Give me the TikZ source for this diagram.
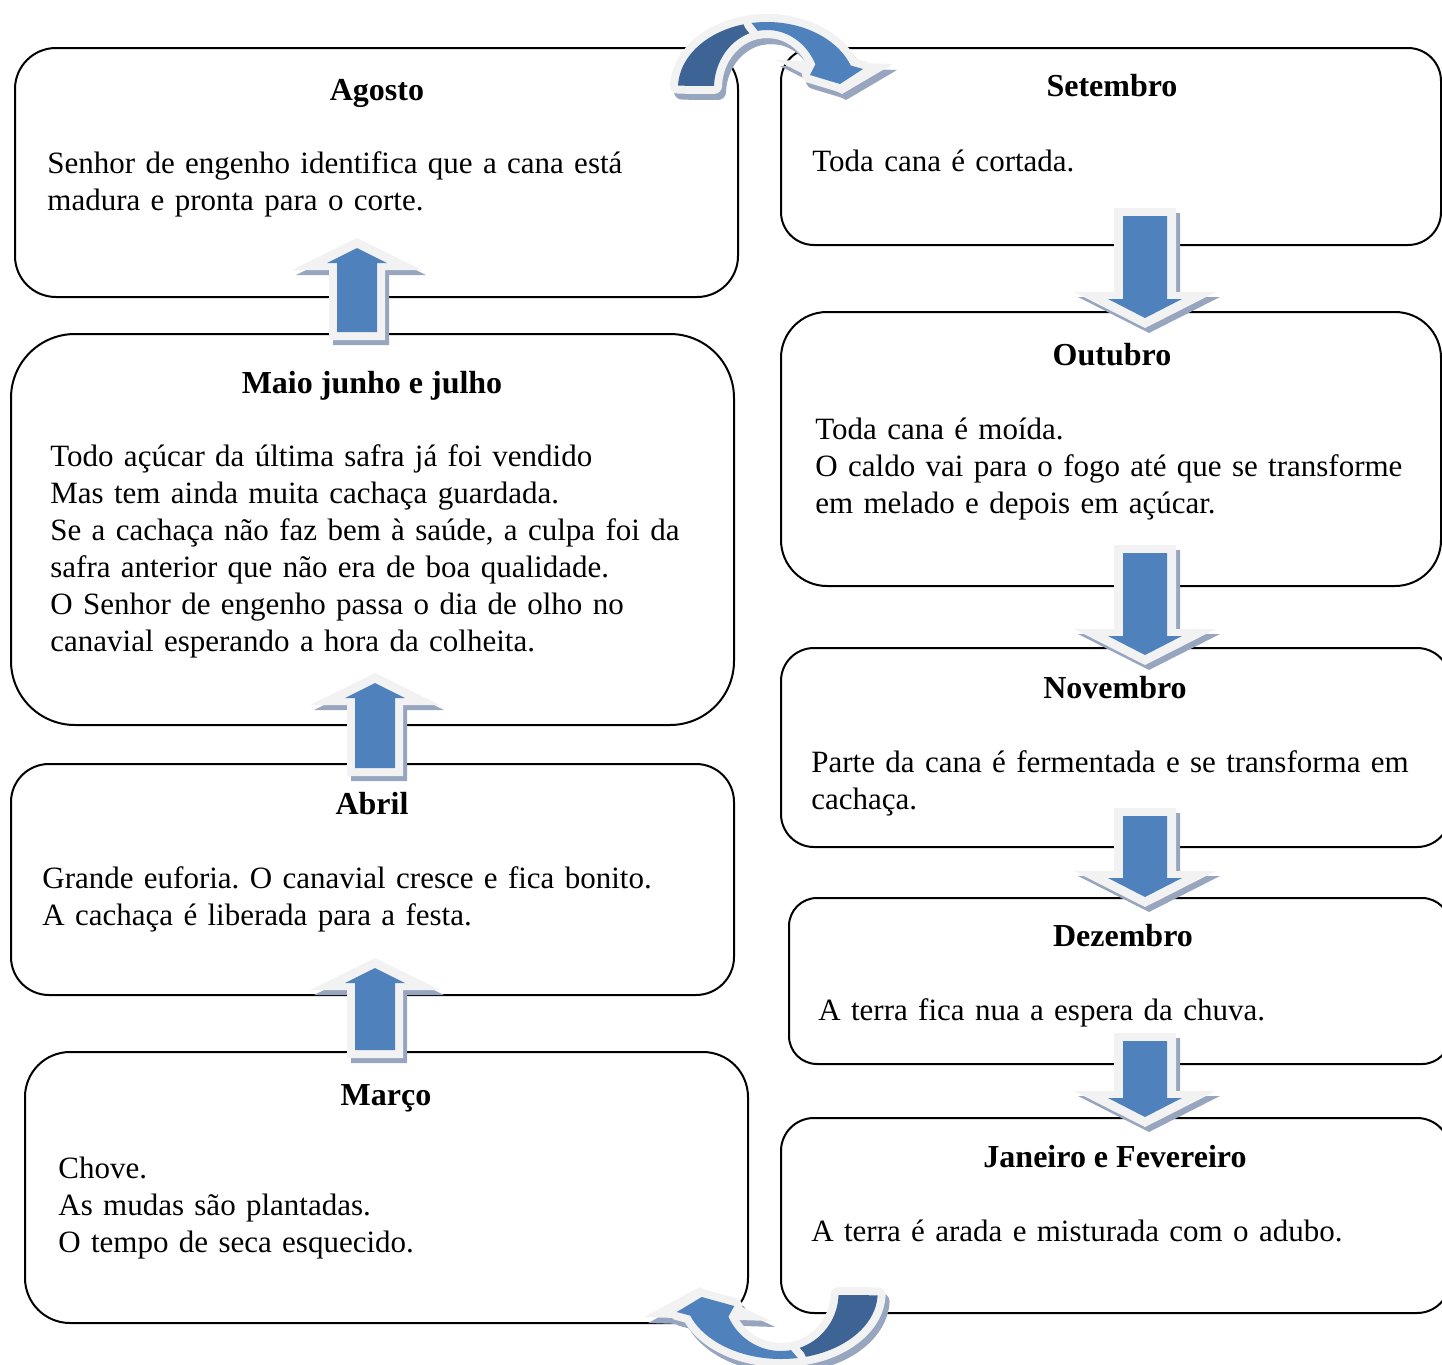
\documentclass[tikz,border=0pt]{standalone}
\usepackage{fontspec}
\setmainfont{Liberation Serif}
\usetikzlibrary{fit}
\frenchspacing

\definecolor{arrowblue}{HTML}{4F81BD}
\definecolor{arrowdark}{HTML}{3E6496}
\definecolor{arrowrim}{HTML}{F2F2F2}
\definecolor{arrowshade}{HTML}{97A6BE}

\tikzset{
  month/.style={draw=black, line width=1pt, inner sep=0pt, fit={#1}},
  title/.style={anchor=base, inner sep=0pt, font=\fontsize{16}{18.5}\selectfont\bfseries},
  body/.style={anchor=base west, align=left, text width=380pt, inner sep=0pt,
               font=\fontsize{15.5}{18.5}\selectfont},
  rim/.style={draw=#1, line width=8pt, line join=round},
}

% straight block arrow: #1 length, #2 shaft half width, #3 head half width,
% #4 head length, #5 inner shaft half width, #6 inner head half width, #7 shadow shift
\newcommand\arrowbody[7]{%
  \fill[arrowshade, shift={#7}] (-#2,0) -- (#2,0) -- (#2,{#1-#4}) -- (#3,{#1-#4})
        -- (0,#1) -- (-#3,{#1-#4}) -- (-#2,{#1-#4}) -- cycle;
  \fill[arrowrim] (-#2,0) -- (#2,0) -- (#2,{#1-#4}) -- (#3,{#1-#4})
        -- (0,#1) -- (-#3,{#1-#4}) -- (-#2,{#1-#4}) -- cycle;
  \fill[arrowblue] (-#5,8) -- (#5,8) -- (#5,{#1-#4+7}) -- (#6,{#1-#4+7})
        -- (0,{#1-10}) -- (-#6,{#1-#4+7}) -- (-#5,{#1-#4+7}) -- cycle;}

% downward arrow: centre x, top y, tip y
\newcommand\blockdown[3]{%
  \begin{scope}[shift={(#1,#2)}]
    \arrowbody{#3-#2}{31}{71}{36}{22}{37}{(4,5)}
  \end{scope}}

% upward arrow: centre x, tip y, bottom y
\newcommand\blockup[3]{%
  \begin{scope}[shift={(#1,#3)}, yscale=-1]
    \arrowbody{#3-#2}{28}{65}{32}{20}{30}{(4,-5)}
  \end{scope}}

% outlines of the U-turn arrow (band narrows towards the crest)
\newcommand\backleg{plot[domain=178:82, samples=40] ({89*cos(\x)},{-66*sin(\x)})
    -- plot[domain=82:178, samples=40] ({53*cos(\x)},{-58*sin(\x)}) -- cycle}
\newcommand\frontarc{plot[domain=100:20, samples=40] ({89*cos(\x)},{-66*sin(\x)})
    -- (96,-19) -- (73,-4) -- (43,-13)
    -- plot[domain=24:100, samples=40] ({53*cos(\x)},{-58*sin(\x)}) -- cycle}

% curved U-turn arrow: rim colour, back leg colour, front arc colour
\newcommand\curvedshape[3]{%
  \draw[rim=#1] \backleg;
  \fill[#2] \backleg;
  \fill[#1] (9,-28) -- (126,-24) -- (75,6) -- cycle;
  \draw[rim=#1] \frontarc;
  \fill[#3] \frontarc;}

% centre x, centre y, x scale, y scale
\newcommand\curvedarrow[4]{%
  \begin{scope}[shift={(#1+4,#2+6)}, xscale=#3, yscale=#4]
    \curvedshape{arrowshade}{arrowshade}{arrowshade}
  \end{scope}
  \begin{scope}[shift={(#1,#2)}, xscale=#3, yscale=#4]
    \curvedshape{arrowrim}{arrowdark}{arrowblue}
  \end{scope}}

\begin{document}
\begin{tikzpicture}[x=0.5pt, y=-0.5pt]
  \useasboundingbox (0,0) rectangle (1442,1365);
  \clip (0,0) rectangle (1442,1365);

  % month boxes, left column
  \node[month={(15,48) (738,297)},   rounded corners=20.5pt] (ag)  {};
  \node[month={(11,334) (734,725)},  rounded corners=32pt]   (mai) {};
  \node[month={(11,764) (734,995)},  rounded corners=19pt]   (abr) {};
  \node[month={(25,1052) (748,1323)},rounded corners=22.5pt] (mar) {};
  % month boxes, right column
  \node[month={(781,48) (1441,245)},  rounded corners=16.5pt] (set) {};
  \node[month={(781,312) (1441,586)}, rounded corners=23pt]   (out) {};
  \node[month={(781,648) (1450,847)}, rounded corners=16.5pt] (nov) {};
  \node[month={(789,898) (1450,1064)},rounded corners=14pt]   (dez) {};
  \node[month={(781,1118) (1450,1313)},rounded corners=16.5pt](jan) {};

  % texts
  \node[title] (agT) at (377,100) {Agosto};
  \node[body]  (agB) at (47,173) {Senhor de engenho identifica que a cana está\\madura e pronta para o corte.};

  \node[title] (maiT) at (372,393) {Maio junho e julho};
  \node[body]  (maiB) at (50,466) {Todo açúcar da última safra já foi vendido\\Mas tem ainda muita cachaça guardada.\\Se a cachaça não faz bem à saúde, a culpa foi da\\safra anterior que não era de boa qualidade.\\O Senhor de engenho passa o dia de olho no\\canavial esperando a hora da colheita.};

  \node[title] (abrT) at (372,814) {Abril};
  \node[body]  (abrB) at (42,888) {Grande euforia. O canavial cresce e fica bonito.\\A cachaça é liberada para a festa.};

  \node[title] (marT) at (386,1105) {Março};
  \node[body]  (marB) at (58,1178) {Chove.\\As mudas são plantadas.\\O tempo de seca esquecido.};

  \node[title] (setT) at (1112,97) {Setembro};
  \node[body]  (setB) at (812,171) {Toda cana é cortada.};

  \node[title] (outT) at (1112,365) {Outubro};
  \node[body]  (outB) at (815,439) {Toda cana é moída.\\O caldo vai para o fogo até que se transforme\\em melado e depois em açúcar.};

  \node[title] (novT) at (1115,698) {Novembro};
  \node[body]  (novB) at (811,772) {Parte da cana é fermentada e se transforma em\\cachaça.};

  \node[title] (dezT) at (1123,946) {Dezembro};
  \node[body]  (dezB) at (818,1020) {A terra fica nua a espera da chuva.};

  \node[title] (janT) at (1115,1167) {Janeiro e Fevereiro};
  \node[body]  (janB) at (811,1241) {A terra é arada e misturada com o adubo.};

  % block arrows, left column going up
  \blockup{357}{238}{340}
  \blockup{375}{673}{776}
  \blockup{375}{958}{1058}
  % block arrows, right column going down
  \blockdown{1145}{208}{328}
  \blockdown{1145}{545}{665}
  \blockdown{1145}{808}{907}
  \blockdown{1145}{1033}{1127}

  % U-turn arrows between the columns
  \curvedarrow{767}{88}{1}{1}
  \curvedarrow{781}{1293}{-1.086}{-1}
\end{tikzpicture}
\end{document}
